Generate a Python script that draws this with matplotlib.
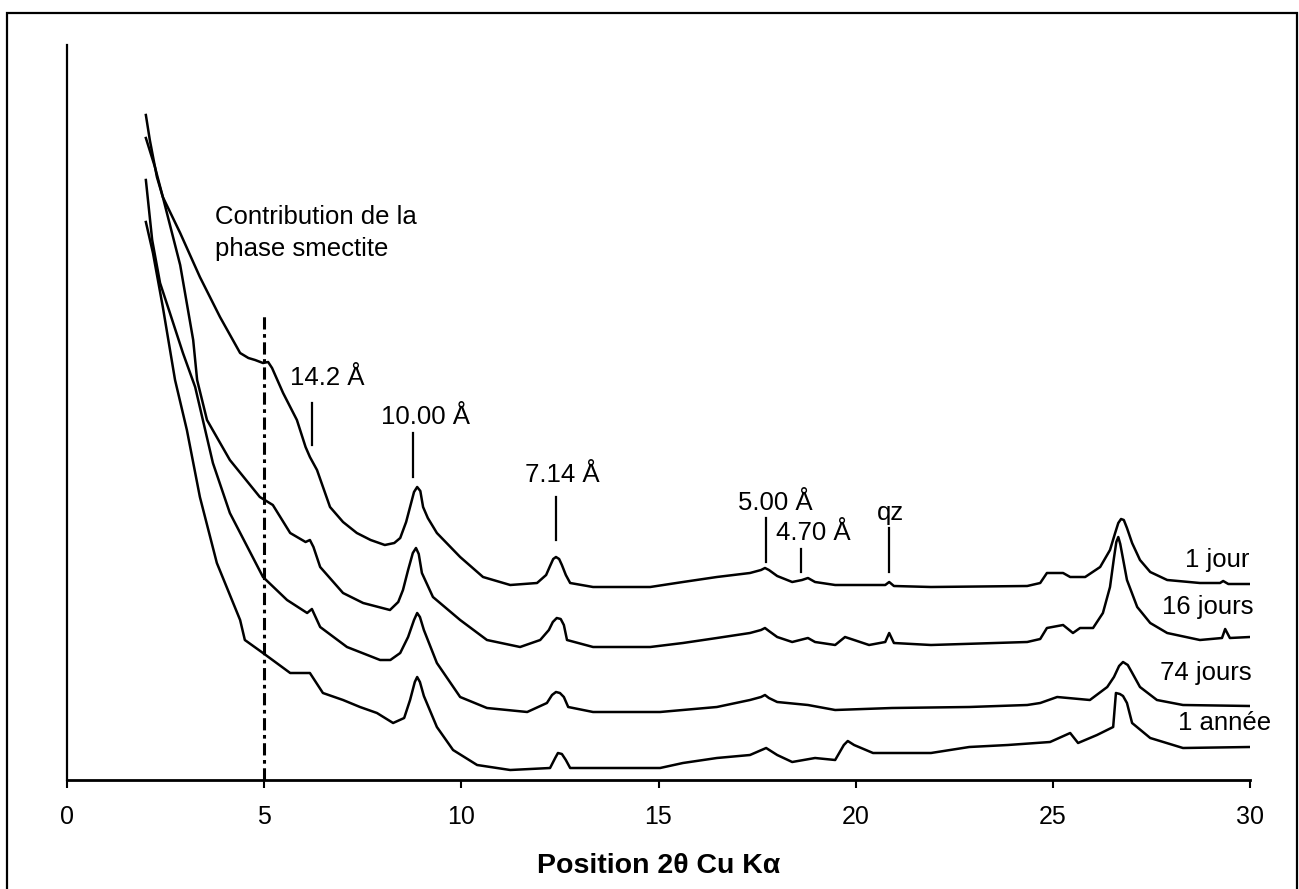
import matplotlib
matplotlib.use('Agg')
import matplotlib.pyplot as plt
from matplotlib.patches import Rectangle

plt.rcParams['font.family'] = ['Liberation Sans', 'DejaVu Sans']

# 2theta (deg) / intensity (a.u., offset)
x_1j = [2.00, 2.10, 2.28, 2.43, 2.87, 3.37, 3.88, 4.39, 4.60, 4.77, 4.97, 5.10, 5.20, 5.48, 5.83, 6.05,
        6.16, 6.34, 6.67, 7.00, 7.35, 7.70, 8.06, 8.30, 8.45, 8.60, 8.70, 8.80, 8.88, 8.96, 9.03, 9.15,
        9.38, 9.97, 10.55, 11.24, 11.92, 12.15, 12.25, 12.33, 12.40, 12.48, 12.55, 12.65, 12.76,
        13.34, 14.79, 15.62, 16.48, 17.32, 17.60, 17.70, 17.80, 18.01, 18.39, 18.64, 18.79, 18.97,
        19.48, 20.75, 20.85, 20.97, 21.91, 24.35, 24.68, 24.85, 25.26, 25.44, 25.82, 26.20, 26.45,
        26.58, 26.66, 26.73, 26.80, 26.88, 27.01, 27.21, 27.47, 27.90, 28.73, 29.24, 29.32, 29.45, 30.00]
y_1j = [665, 640, 603, 583, 547, 503, 463, 427, 422, 420, 417, 418, 412, 387, 360, 333,
        323, 310, 273, 258, 247, 240, 235, 237, 242, 258, 273, 288, 293, 289, 273, 262,
        247, 223, 203, 195, 197, 205, 214, 221, 223, 221, 215, 205, 197,
        193, 193, 198, 203, 207, 210, 212, 210, 204, 198, 200, 202, 198,
        195, 195, 198, 194, 193, 194, 197, 207, 207, 203, 203, 213, 230,
        247, 257, 261, 260, 252, 237, 220, 208, 200, 197, 197, 199, 196, 196]

x_16j = [2.00, 2.23, 2.43, 2.87, 3.20, 3.30, 3.55, 4.13, 4.89, 5.22, 5.66, 6.05, 6.16, 6.25, 6.42,
         7.00, 7.51, 8.19, 8.40, 8.52, 8.65, 8.77, 8.85, 8.92, 9.00, 9.28, 9.97, 10.65, 11.49, 12.00,
         12.22, 12.32, 12.42, 12.52, 12.60, 12.68, 13.34, 14.79, 15.62, 16.48, 17.32, 17.60, 17.70,
         17.80, 18.01, 18.39, 18.79, 18.97, 19.48, 19.73, 19.96, 20.34, 20.75, 20.85, 20.97, 21.91,
         24.35, 24.68, 24.85, 25.26, 25.51, 25.69, 26.02, 26.27, 26.45, 26.55, 26.61, 26.66, 26.71,
         26.88, 27.14, 27.47, 27.90, 28.73, 29.29, 29.37, 29.49, 30.00]
y_16j = [642, 613, 583, 515, 440, 400, 360, 320, 283, 275, 247, 238, 240, 233, 213,
         187, 177, 170, 178, 190, 210, 227, 232, 226, 207, 183, 160, 140, 133, 140,
         150, 158, 162, 161, 155, 140, 133, 133, 137, 142, 147, 150, 152,
         149, 143, 138, 142, 138, 135, 143, 140, 135, 138, 147, 137, 135,
         138, 141, 152, 155, 147, 152, 152, 167, 193, 222, 238, 243, 236,
         200, 173, 157, 147, 140, 142, 151, 142, 143]

x_74j = [2.00, 2.16, 2.36, 2.61, 2.94, 3.25, 3.70, 4.13, 4.97, 5.58, 6.09, 6.21, 6.42, 7.10, 7.94,
         8.20, 8.45, 8.65, 8.80, 8.88, 8.95, 9.05, 9.38, 9.97, 10.65, 11.67, 12.17, 12.30, 12.40,
         12.50, 12.60, 12.71, 13.34, 15.04, 16.48, 17.32, 17.60, 17.70, 17.80, 18.01, 18.79, 19.48,
         20.92, 22.88, 24.35, 24.68, 25.11, 25.94, 26.38, 26.55, 26.68, 26.78, 26.90, 27.00, 27.21,
         27.64, 28.30, 30.00]
y_74j = [600, 540, 497, 467, 427, 393, 317, 267, 203, 180, 167, 171, 153, 133, 120,
         120, 127, 143, 160, 167, 163, 150, 117, 83, 72, 68, 77, 85, 88,
         87, 83, 73, 68, 68, 73, 80, 83, 85, 82, 78, 75, 70,
         72, 73, 75, 77, 83, 80, 93, 103, 114, 118, 115, 108, 93,
         80, 75, 74]

x_1a = [2.00, 2.18, 2.43, 2.74, 3.04, 3.37, 3.80, 4.39, 4.51, 4.97, 5.66, 6.16, 6.49, 7.00, 7.43,
        7.86, 8.27, 8.55, 8.70, 8.82, 8.88, 8.95, 9.05, 9.38, 9.79, 10.40, 11.24, 12.25, 12.38,
        12.45, 12.55, 12.65, 12.76, 15.04, 15.62, 16.48, 17.32, 17.73, 18.01, 18.39, 18.97, 19.48,
        19.70, 19.80, 19.96, 20.44, 21.91, 22.88, 23.86, 24.93, 25.44, 25.64, 26.12, 26.53, 26.60,
        26.70, 26.78, 26.88, 27.01, 27.47, 28.30, 30.00]
y_1a = [558, 527, 473, 400, 350, 283, 217, 160, 140, 127, 107, 107, 87, 80, 73,
        67, 57, 62, 80, 98, 103, 98, 84, 53, 30, 15, 10, 12, 22,
        27, 26, 20, 12, 12, 17, 22, 25, 32, 25, 18, 22, 20,
        35, 39, 35, 27, 27, 33, 35, 38, 47, 37, 45, 53, 87,
        86, 84, 77, 57, 42, 32, 33]

series = [(x_1j, y_1j), (x_16j, y_16j), (x_74j, y_74j), (x_1a, y_1a)]
series_labels = ['1 jour', '16 jours', '74 jours', '1 année']
label_x = [29.98, 30.10, 30.05, 30.53]
label_y = [220, 173, 107, 57]

# peak markers: label, x of tick, tick bottom, tick top, text x, text y
peak_names = ['14.2 Å', '10.00 Å', '7.14 Å', '5.00 Å', '4.70 Å', 'qz']
peak_x = [6.21, 8.78, 12.40, 17.73, 18.62, 20.85]
peak_y0 = [335, 303, 240, 218, 208, 208]
peak_y1 = [377, 347, 283, 262, 231, 252]
peak_tx = [6.59, 9.10, 12.55, 17.96, 18.92, 20.87]
peak_ty = [402, 363, 305, 277, 247, 267]

fig = plt.figure(figsize=(12.99, 8.89), dpi=100)
fig.patches.append(Rectangle((7/1299, -0.01), 1290/1299, 0.9954, transform=fig.transFigure,
                             fill=False, edgecolor='black', linewidth=1.6))
ax = fig.add_axes([67/1299, 109/889, 1183/1299, 735/889])

for xs, ys in series:
    ax.plot(xs, ys, color='black', linewidth=1.8, solid_joinstyle='round')

for name, lx, ly in zip(series_labels, label_x, label_y):
    ax.text(lx, ly, name, ha='right', va='center', fontsize=18.5)

for name, px, a, b, tx, ty in zip(peak_names, peak_x, peak_y0, peak_y1, peak_tx, peak_ty):
    ax.plot([px, px], [a, b], color='black', linewidth=1.6)
    ax.text(tx, ty, name, ha='center', va='center', fontsize=18.5)

ax.plot([5, 5], [0, 465], color='black', linewidth=2.2, linestyle=(0, (4, 1.5, 1.2, 1.5)))
ax.text(3.75, 575, 'Contribution de la\nphase smectite', ha='left', va='top', fontsize=18.5,
        linespacing=1.4)

ax.set_xlim(0, 30)
ax.set_ylim(0, 735)
ax.set_xticks([0, 5, 10, 15, 20, 25, 30])
ax.set_yticks([])
ax.tick_params(axis='x', direction='out', length=6, width=1.5, labelsize=18, pad=12)
ax.spines['top'].set_visible(False)
ax.spines['right'].set_visible(False)
ax.spines['bottom'].set_linewidth(2)
ax.spines['left'].set_linewidth(1.6)
ax.set_xlabel('Position 2θ Cu Kα', fontsize=20.5, fontweight='bold', labelpad=17)

fig.savefig('out.png', dpi=100)
